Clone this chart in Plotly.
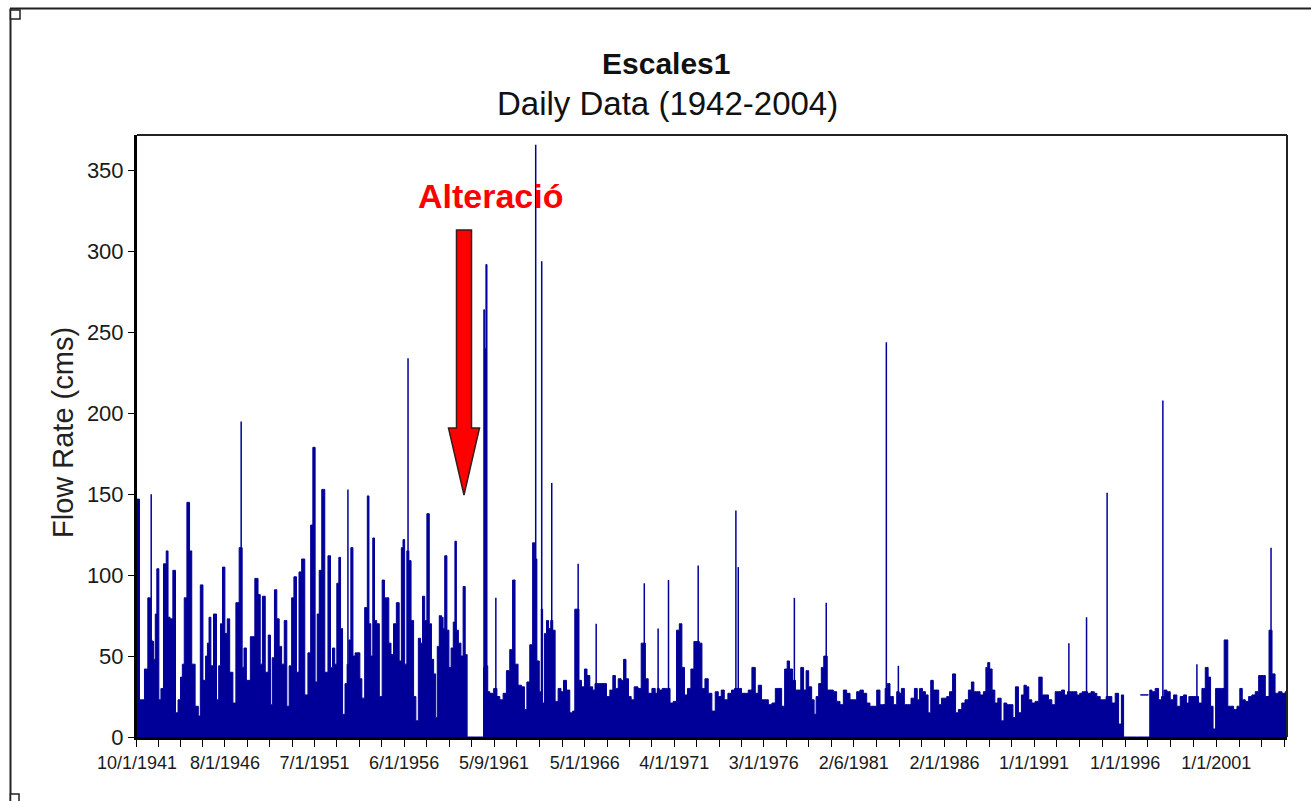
import pandas as pd
import plotly.graph_objects as go

# ---------------- data ----------------
# daily-flow envelope (decimal year, flow in cms)
flow_year = [
    1941.75, 1941.85, 1941.92, 1942.07, 1942.25, 1942.44, 1942.53, 1942.62, 1942.71, 1942.80,
    1942.88, 1943.02, 1943.11, 1943.30, 1943.41, 1943.50, 1943.63, 1943.81, 1943.92, 1944.09,
    1944.19, 1944.29, 1944.40, 1944.58, 1944.69, 1944.82, 1945.06, 1945.17, 1945.28, 1945.46,
    1945.57, 1945.66, 1945.75, 1945.86, 1946.04, 1946.19, 1946.28, 1946.39, 1946.50, 1946.65,
    1946.76, 1946.92, 1947.11, 1947.25, 1947.47, 1947.58, 1947.67, 1947.84, 1948.11, 1948.33,
    1948.46, 1948.57, 1948.70, 1948.88, 1949.03, 1949.12, 1949.23, 1949.36, 1949.49, 1949.62,
    1949.76, 1949.91, 1950.04, 1950.17, 1950.31, 1950.42, 1950.59, 1950.70, 1950.88, 1951.04,
    1951.23, 1951.34, 1951.47, 1951.59, 1951.70, 1951.81, 1951.98, 1952.14, 1952.33, 1952.42,
    1952.55, 1952.66, 1952.78, 1952.88, 1952.97, 1953.10, 1953.24, 1953.33, 1953.43, 1953.55,
    1953.66, 1953.79, 1953.94, 1954.03, 1954.16, 1954.34, 1954.45, 1954.52, 1954.65, 1954.74,
    1954.84, 1954.98, 1955.13, 1955.29, 1955.38, 1955.53, 1955.62, 1955.77, 1955.90, 1956.08,
    1956.21, 1956.32, 1956.39, 1956.50, 1956.63, 1956.72, 1956.87, 1957.00, 1957.12, 1957.27,
    1957.36, 1957.49, 1957.60, 1957.73, 1957.86, 1957.97, 1958.10, 1958.19, 1958.28, 1958.41,
    1958.52, 1958.59, 1958.70, 1958.83, 1958.92, 1959.07, 1959.16, 1959.25, 1959.32, 1959.47,
    1959.60, 1959.71, 1959.83, 1959.87, 1959.88, 1960.77, 1960.78, 1960.80, 1960.87, 1960.94,
    1960.99, 1961.02, 1961.21, 1961.45, 1961.57, 1961.76, 1961.94, 1962.12, 1962.31, 1962.43,
    1962.58, 1962.76, 1962.95, 1963.09, 1963.22, 1963.41, 1963.53, 1963.64, 1963.77, 1963.90,
    1963.99, 1964.05, 1964.19, 1964.28, 1964.41, 1964.52, 1964.63, 1964.78, 1964.96, 1965.09,
    1965.24, 1965.42, 1965.60, 1965.73, 1965.84, 1965.97, 1966.06, 1966.24, 1966.39, 1966.52,
    1966.70, 1966.83, 1966.96, 1967.07, 1967.25, 1967.43, 1967.62, 1967.80, 1967.95, 1968.08,
    1968.26, 1968.40, 1968.53, 1968.66, 1968.81, 1968.95, 1969.14, 1969.36, 1969.50, 1969.60,
    1969.72, 1969.91, 1970.13, 1970.27, 1970.36, 1970.49, 1970.68, 1970.82, 1970.93, 1971.10,
    1971.28, 1971.46, 1971.59, 1971.74, 1971.88, 1972.07, 1972.25, 1972.40, 1972.56, 1972.69,
    1972.84, 1973.02, 1973.20, 1973.42, 1973.57, 1973.75, 1973.90, 1974.08, 1974.30, 1974.48,
    1974.63, 1974.76, 1974.85, 1975.03, 1975.22, 1975.40, 1975.62, 1975.77, 1975.95, 1976.13,
    1976.32, 1976.50, 1976.72, 1976.87, 1977.05, 1977.23, 1977.38, 1977.51, 1977.63, 1977.84,
    1977.96, 1978.11, 1978.27, 1978.42, 1978.55, 1978.70, 1978.88, 1978.97, 1979.10, 1979.25,
    1979.39, 1979.52, 1979.59, 1979.70, 1979.89, 1980.07, 1980.25, 1980.44, 1980.62, 1980.80,
    1980.99, 1981.17, 1981.35, 1981.53, 1981.72, 1981.90, 1982.08, 1982.27, 1982.45, 1982.63,
    1982.76, 1982.89, 1983.00, 1983.18, 1983.37, 1983.55, 1983.64, 1983.79, 1983.97, 1984.15,
    1984.34, 1984.52, 1984.65, 1984.78, 1984.96, 1985.11, 1985.25, 1985.40, 1985.53, 1985.69,
    1985.84, 1985.99, 1986.11, 1986.30, 1986.42, 1986.63, 1986.75, 1986.94, 1987.12, 1987.30,
    1987.49, 1987.63, 1987.76, 1987.94, 1988.13, 1988.31, 1988.40, 1988.51, 1988.62, 1988.77,
    1988.92, 1989.10, 1989.28, 1989.41, 1989.59, 1989.78, 1989.90, 1990.05, 1990.23, 1990.38,
    1990.51, 1990.64, 1990.78, 1990.97, 1991.15, 1991.37, 1991.52, 1991.70, 1991.88, 1992.07,
    1992.25, 1992.43, 1992.58, 1992.76, 1992.91, 1993.07, 1993.26, 1993.44, 1993.57, 1993.71,
    1993.88, 1993.99, 1994.26, 1994.35, 1994.54, 1994.72, 1994.90, 1995.01, 1995.18, 1995.36,
    1995.55, 1995.73, 1995.86, 1995.91, 1995.92, 1997.32, 1997.38, 1997.56, 1997.74, 1997.93,
    1998.07, 1998.20, 1998.38, 1998.57, 1998.75, 1998.93, 1999.12, 1999.30, 1999.43, 1999.57,
    1999.76, 1999.94, 2000.12, 2000.31, 2000.49, 2000.62, 2000.76, 2000.89, 2001.04, 2001.22,
    2001.37, 2001.50, 2001.59, 2001.68, 2001.86, 2002.05, 2002.23, 2002.36, 2002.50, 2002.69,
    2002.87, 2003.05, 2003.24, 2003.42, 2003.60, 2003.79, 2004.01, 2004.12, 2004.34, 2004.52,
    2004.70, 2004.88,
]
flow_cms = [
    147, 147, 23, 23, 42, 86, 60, 59, 48, 76,
    104, 23, 30, 107, 115, 74, 73, 103, 15, 23,
    37, 45, 86, 145, 115, 45, 19, 13, 94, 35,
    50, 58, 74, 44, 76, 23, 44, 70, 105, 64,
    73, 40, 21, 83, 117, 43, 55, 35, 62, 98,
    88, 45, 87, 40, 63, 20, 49, 91, 73, 56,
    45, 72, 19, 44, 86, 99, 40, 102, 110, 26,
    52, 131, 179, 34, 76, 103, 153, 40, 112, 43,
    55, 45, 95, 111, 67, 14, 33, 45, 60, 117,
    50, 52, 52, 36, 24, 80, 149, 70, 50, 123,
    72, 70, 25, 97, 86, 86, 58, 51, 70, 83,
    47, 117, 122, 45, 115, 109, 72, 25, 10, 61,
    58, 87, 72, 138, 70, 48, 39, 12, 56, 75,
    74, 67, 112, 66, 43, 55, 71, 121, 66, 58,
    50, 93, 51, 51, 0, 0, 43, 264, 240, 292,
    44, 28, 27, 30, 25, 23, 27, 41, 54, 97,
    45, 32, 31, 17, 34, 57, 120, 110, 47, 28,
    79, 21, 64, 72, 67, 72, 66, 22, 30, 28,
    35, 29, 15, 16, 79, 79, 35, 31, 42, 38,
    31, 29, 33, 33, 33, 33, 25, 29, 38, 30,
    36, 35, 48, 36, 25, 23, 31, 30, 58, 58,
    36, 27, 30, 27, 30, 29, 30, 30, 30, 21,
    22, 66, 70, 43, 26, 30, 42, 59, 59, 58,
    30, 36, 27, 16, 28, 25, 29, 23, 27, 29,
    30, 30, 30, 27, 27, 29, 43, 27, 32, 23,
    23, 20, 21, 30, 30, 19, 42, 47, 42, 35,
    29, 29, 43, 29, 41, 31, 23, 14, 25, 33,
    43, 50, 50, 29, 29, 28, 22, 20, 29, 27,
    23, 23, 28, 29, 27, 21, 19, 19, 29, 20,
    20, 30, 33, 25, 20, 28, 27, 30, 20, 20,
    24, 30, 23, 30, 28, 26, 15, 35, 29, 29,
    20, 24, 24, 25, 28, 39, 15, 17, 21, 23,
    29, 34, 28, 28, 26, 28, 43, 46, 42, 29,
    21, 24, 10, 21, 20, 20, 12, 31, 15, 26,
    32, 31, 23, 21, 22, 37, 26, 26, 23, 20,
    28, 28, 29, 26, 28, 28, 28, 26, 27, 28,
    28, 27, 28, 27, 25, 23, 23, 25, 25, 21,
    27, 8, 26, 26, 0, 0, 29, 28, 30, 23,
    25, 29, 28, 23, 26, 19, 25, 26, 21, 25,
    25, 25, 21, 30, 43, 37, 19, 5, 30, 30,
    30, 60, 60, 19, 19, 17, 19, 30, 23, 22,
    25, 26, 28, 38, 38, 25, 66, 39, 27, 28,
    27, 28,
]

# single-day flood peaks (thin spikes)
spike_year = [1942.53, 1947.47, 1953.33, 1956.63, 1961.45, 1963.64, 1963.97, 1964.52,
              1965.97, 1966.96, 1969.60, 1970.36, 1970.93, 1972.56, 1974.63, 1974.76,
              1977.84, 1979.59, 1982.89, 1983.55, 1992.91, 1993.88, 1995.01, 1998.07,
              1999.94, 2004.01]
spike_cms = [150, 195, 153, 234, 86, 366, 294, 157,
             107, 70, 95, 67, 97, 106, 140, 105,
             86, 83, 244, 44, 58, 74, 151, 208,
             45, 117]

# short constant stretch inside the 1996-97 data gap
flat_year = [1996.83, 1997.28]
flat_cms = [26, 26]

tick_labels = ["10/1/1941", "8/1/1946", "7/1/1951", "6/1/1956", "5/9/1961", "5/1/1966",
               "4/1/1971", "3/1/1976", "2/6/1981", "2/1/1986", "1/1/1991", "1/1/1996",
               "1/1/2001"]
y_ticks = [0, 50, 100, 150, 200, 250, 300, 350]

# ---------------- helpers ----------------
def to_date(y):
    yr = int(y)
    start = pd.Timestamp(yr, 1, 1)
    nxt = pd.Timestamp(yr + 1, 1, 1)
    return start + (nxt - start) * (y - yr)

BLUE = "#000099"
FONT = "Liberation Sans, Arial, sans-serif"

flow_dates = [to_date(v) for v in flow_year]
spx, spy = [], []
for yv, cv in zip(spike_year, spike_cms):
    d = to_date(yv)
    spx += [d, d, None]
    spy += [0, cv, None]

x_start = to_date(1941.75)
x_end = to_date(2004.885)

major = [pd.to_datetime(t, format="%m/%d/%Y") for t in tick_labels]
tickvals, ticktext = [], []
for i, m in enumerate(major):
    tickvals.append(m)
    ticktext.append(tick_labels[i])
    step = (major[i + 1] - m) if i + 1 < len(major) else (m - major[i - 1])
    for k in (1, 2, 3):
        t = m + step * (k / 4)
        if t <= x_end:
            tickvals.append(t)
            ticktext.append("")

# ---------------- figure ----------------
fig = go.Figure()
fig.add_trace(go.Scatter(x=flow_dates, y=flow_cms, mode="lines",
                         line=dict(color=BLUE, width=1, shape="hvh"), fill="tozeroy",
                         fillcolor=BLUE, hoverinfo="skip", showlegend=False))
fig.add_trace(go.Scatter(x=spx, y=spy, mode="lines",
                         line=dict(color=BLUE, width=1.5), hoverinfo="skip",
                         showlegend=False))
fig.add_trace(go.Scatter(x=[to_date(v) for v in flat_year], y=flat_cms, mode="lines",
                         line=dict(color=BLUE, width=1.5), hoverinfo="skip",
                         showlegend=False))

L, R, T, B = 137, 24, 135, 64
W, H = 1311, 801
PW, PH = W - L - R, H - T - B

def px(xp):
    return (xp - L) / PW

def py(yp):
    return (H - B - yp) / PH

fig.update_layout(
    width=W, height=H,
    margin=dict(l=L, r=R, t=T, b=B),
    paper_bgcolor="white", plot_bgcolor="white",
    font=dict(family=FONT, color="#111111"),
    showlegend=False,
    xaxis=dict(type="date", range=[x_start, x_end], tickmode="array",
               tickvals=tickvals, ticktext=ticktext, tickangle=0,
               ticks="outside", ticklen=7, tickwidth=1, tickcolor="black",
               showline=True, linecolor="black", linewidth=3, mirror=False,
               showgrid=False, zeroline=False,
               tickfont=dict(family=FONT, size=18, color="#1a1a1a")),
    yaxis=dict(range=[0, 372], tickmode="array", tickvals=y_ticks,
               ticks="outside", ticklen=6, tickwidth=1, tickcolor="black",
               showline=True, linecolor="black", linewidth=3, mirror=False,
               showgrid=False, zeroline=False,
               tickfont=dict(family=FONT, size=22, color="#1a1a1a")),
)

shapes = [
    # top and right plot border
    dict(type="line", xref="paper", yref="paper", x0=0, x1=1, y0=1, y1=1,
         line=dict(color="#222222", width=2)),
    dict(type="line", xref="paper", yref="paper", x0=1, x1=1, y0=0, y1=1,
         line=dict(color="#222222", width=2)),
    # outer chart frame
    dict(type="line", xref="paper", yref="paper", x0=px(10), x1=px(1311),
         y0=py(8.5), y1=py(8.5), line=dict(color="#222222", width=2)),
    dict(type="line", xref="paper", yref="paper", x0=px(10.5), x1=px(10.5),
         y0=py(8.5), y1=py(801), line=dict(color="#222222", width=2)),
    dict(type="rect", xref="paper", yref="paper", x0=px(10.5), x1=px(20),
         y0=py(10), y1=py(19), fillcolor="white", line=dict(color="#222222", width=1.5)),
    dict(type="rect", xref="paper", yref="paper", x0=px(10.5), x1=px(19),
         y0=py(794), y1=py(802), fillcolor="white", line=dict(color="#222222", width=1.5)),
    # red arrow
    dict(type="path", xref="paper", yref="paper", layer="above",
         path=(f"M {px(456.5)} {py(230)} L {px(471.5)} {py(230)} L {px(471.5)} {py(428)} "
               f"L {px(479.5)} {py(428)} L {px(464)} {py(495)} L {px(448.5)} {py(428)} "
               f"L {px(456.5)} {py(428)} Z"),
         fillcolor="#FF0000", line=dict(color="#3a1a1a", width=1.5)),
]
fig.update_layout(shapes=shapes)

annotations = [
    dict(text="<b>Escales1</b>", x=px(666), y=py(64), xref="paper", yref="paper",
         showarrow=False, xanchor="center", yanchor="middle",
         font=dict(family=FONT, size=30, color="#111111")),
    dict(text="Daily Data (1942-2004)", x=px(667), y=py(103), xref="paper", yref="paper",
         showarrow=False, xanchor="center", yanchor="middle",
         font=dict(family=FONT, size=33, color="#111111")),
    dict(text="<b>Alteració</b>", x=px(491), y=py(196), xref="paper", yref="paper",
         showarrow=False, xanchor="center", yanchor="middle",
         font=dict(family=FONT, size=34, color="#FF0000")),
    dict(text="Flow Rate (cms)", x=px(63), y=py(433), xref="paper", yref="paper",
         showarrow=False, xanchor="center", yanchor="middle", textangle=-90,
         font=dict(family=FONT, size=29, color="#222222")),
]
fig.update_layout(annotations=annotations)

fig.write_html("out.html")
